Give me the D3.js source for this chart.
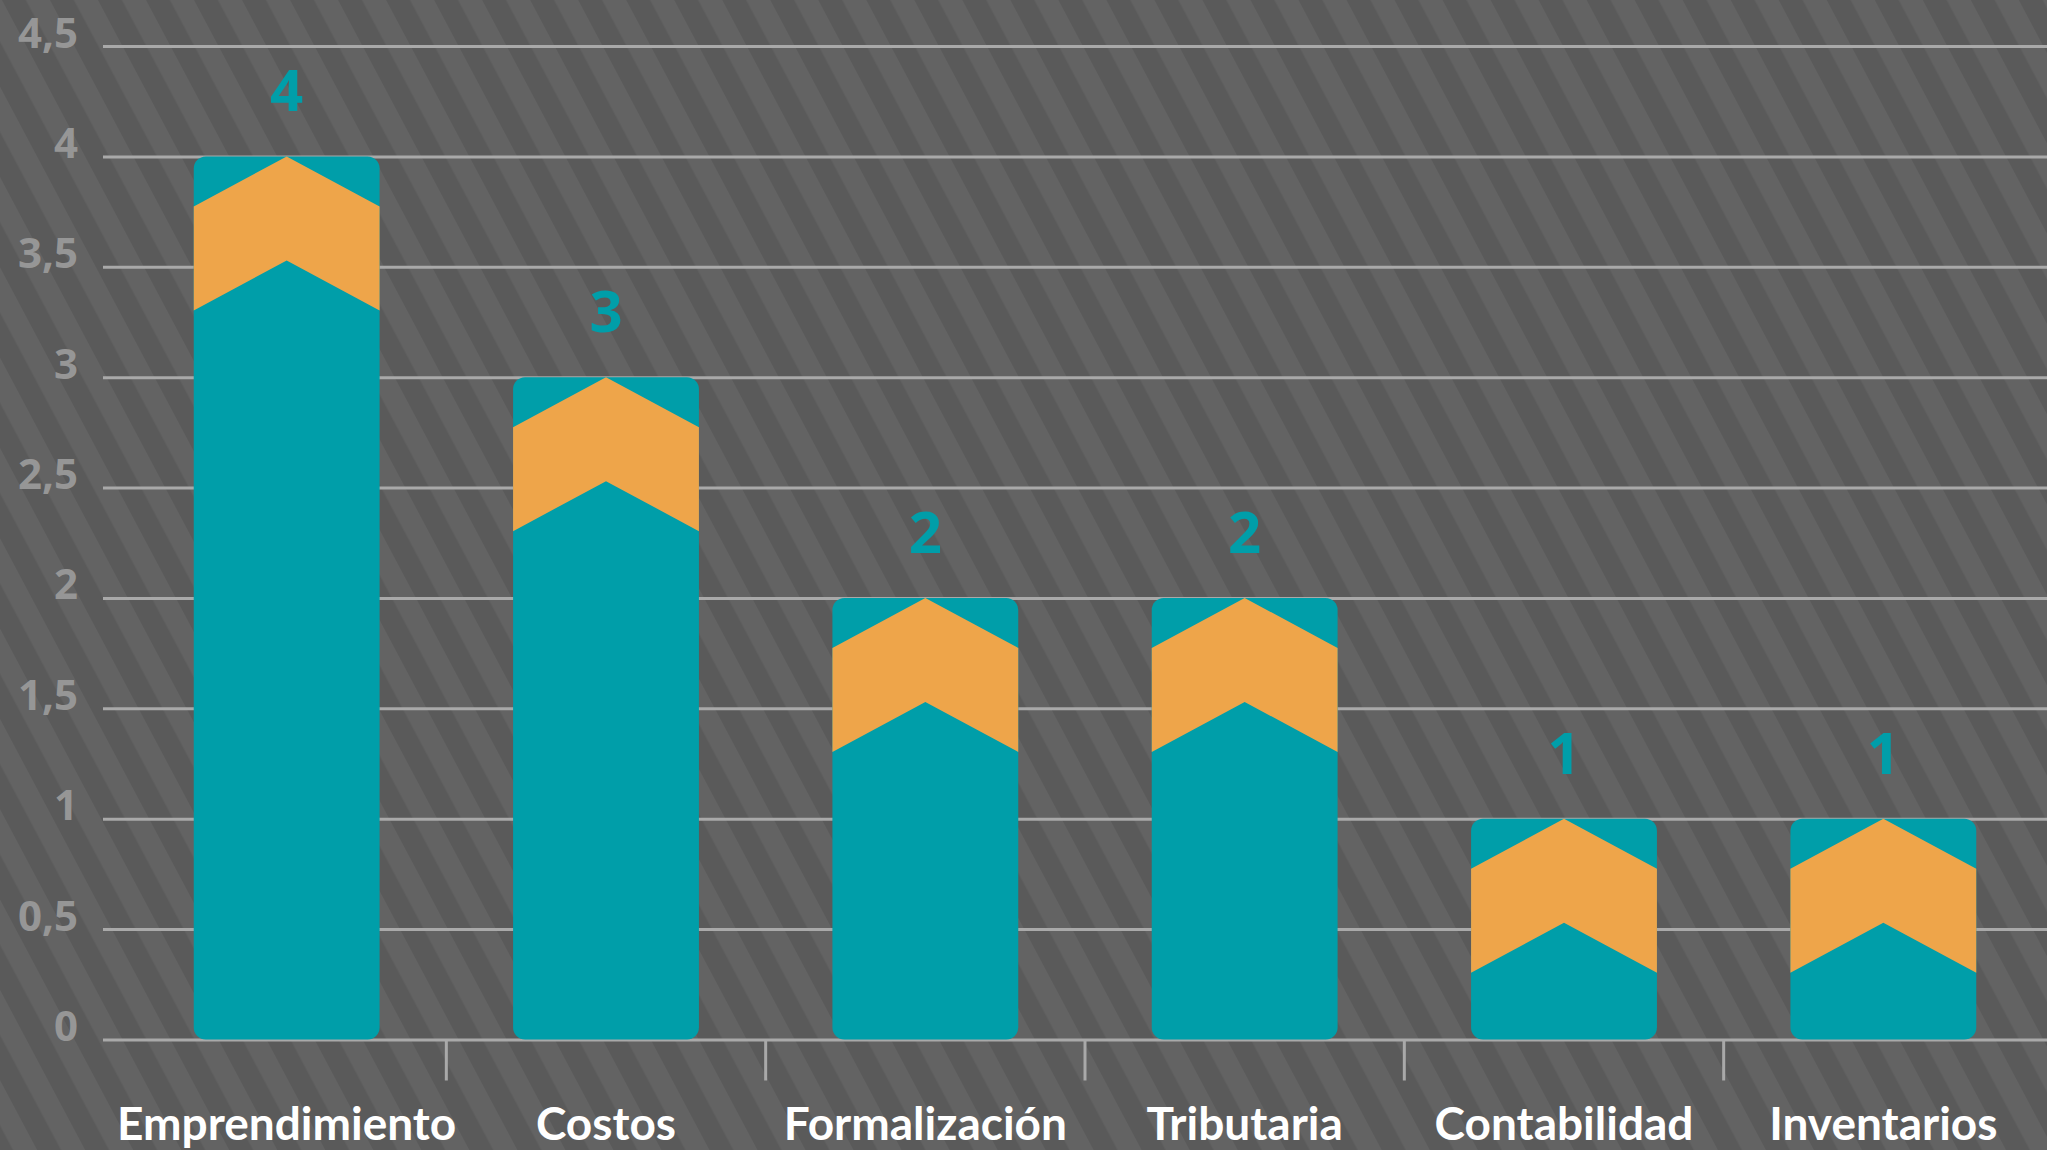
<!DOCTYPE html>
<html>
<head>
<meta charset="utf-8">
<script src="https://cdn.jsdelivr.net/npm/d3@7"></script>
<style>
  html, body { margin: 0; padding: 0; background: #5f5f5f; }
  svg { display: block; }
</style>
</head>
<body>
<svg id="chart" width="2047" height="1150"></svg>
<script>
// ---- data ----
const categories = ["Emprendimiento", "Costos", "Formalización", "Tributaria", "Contabilidad", "Inventarios"];
const values = [4, 3, 2, 2, 1, 1];
const yTickValues = [0, 0.5, 1, 1.5, 2, 2.5, 3, 3.5, 4, 4.5];
const yTickLabels = ["0", "0,5", "1", "1,5", "2", "2,5", "3", "3,5", "4", "4,5"];

// ---- layout / style ----
const W = 2047, H = 1150;
const axisX = 103;
const teal = "#009ea9", orange = "#eea54a";
const gridColor = "#a9a9a9";

const svg = d3.select("#chart");

// striped background
const defs = svg.append("defs");
const pat = defs.append("pattern")
  .attr("id", "stripes")
  .attr("patternUnits", "userSpaceOnUse")
  .attr("x", 1.7)
  .attr("width", 42.4).attr("height", 42.4)
  .attr("patternTransform", "rotate(-28)");
pat.append("rect").attr("width", 42.4).attr("height", 42.4).attr("fill", "#636363");
pat.append("rect").attr("width", 21.2).attr("height", 42.4).attr("fill", "#5a5a5a");
svg.append("rect").attr("width", W).attr("height", H).attr("fill", "url(#stripes)");

// scales
const y = d3.scaleLinear().domain([0, 4.5]).range([1039.5, 46]);
const x = d3.scaleBand().domain(categories).range([127, 2043])
  .paddingInner(0.418).paddingOuter(0.209);

// y axis with gridlines
const yAxis = d3.axisLeft(y)
  .tickValues(yTickValues)
  .tickFormat((d, i) => yTickLabels[i])
  .tickSize(-(W - axisX))
  .tickPadding(25);
const gy = svg.append("g").attr("transform", `translate(${axisX},0)`).call(yAxis);
gy.select(".domain").remove();
gy.selectAll(".tick line").attr("stroke", gridColor).attr("stroke-width", 3);
gy.selectAll(".tick text")
  .attr("fill", "#969696")
  .attr("font-family", "'Open Sans', sans-serif")
  .attr("font-weight", 700)
  .attr("font-size", 42)
  .attr("dy", 1);

// category separators below axis
const step = x.step();
const seps = categories.slice(1).map(c => x(c) - x.paddingInner() * step / 2);
svg.append("g").selectAll("line").data(seps).join("line")
  .attr("x1", d => d).attr("x2", d => d)
  .attr("y1", y(0)).attr("y2", y(0) + 41)
  .attr("stroke", gridColor).attr("stroke-width", 3);

// bars
const bw = x.bandwidth();
const drop = 50, thick = 104;
const bars = svg.append("g").selectAll("g").data(categories).join("g");
bars.append("rect")
  .attr("x", d => x(d))
  .attr("y", (d, i) => y(values[i]))
  .attr("width", bw)
  .attr("height", (d, i) => y(0) - y(values[i]))
  .attr("rx", 12).attr("ry", 12)
  .attr("fill", teal);
bars.append("path")
  .attr("fill", orange)
  .attr("d", (d, i) => {
    const x0 = x(d), x1 = x(d) + bw, cx = x(d) + bw / 2, t = y(values[i]);
    return `M${x0},${t + drop} L${cx},${t} L${x1},${t + drop} L${x1},${t + drop + thick} L${cx},${t + thick} L${x0},${t + drop + thick} Z`;
  });

// value labels
svg.append("g").selectAll("text").data(categories).join("text")
  .attr("x", d => x(d) + bw / 2)
  .attr("y", (d, i) => y(values[i]) - 45)
  .attr("text-anchor", "middle")
  .attr("fill", teal)
  .attr("font-family", "'Open Sans', sans-serif")
  .attr("font-weight", 700)
  .attr("font-size", 58)
  .text((d, i) => values[i]);

// category labels
svg.append("g").selectAll("text").data(categories).join("text")
  .attr("x", d => x(d) + bw / 2)
  .attr("y", 1140)
  .attr("text-anchor", "middle")
  .attr("fill", "#ffffff")
  .attr("font-family", "Lato, sans-serif")
  .attr("font-weight", 700)
  .attr("font-size", 46)
  .text(d => d);
</script>
</body>
</html>
